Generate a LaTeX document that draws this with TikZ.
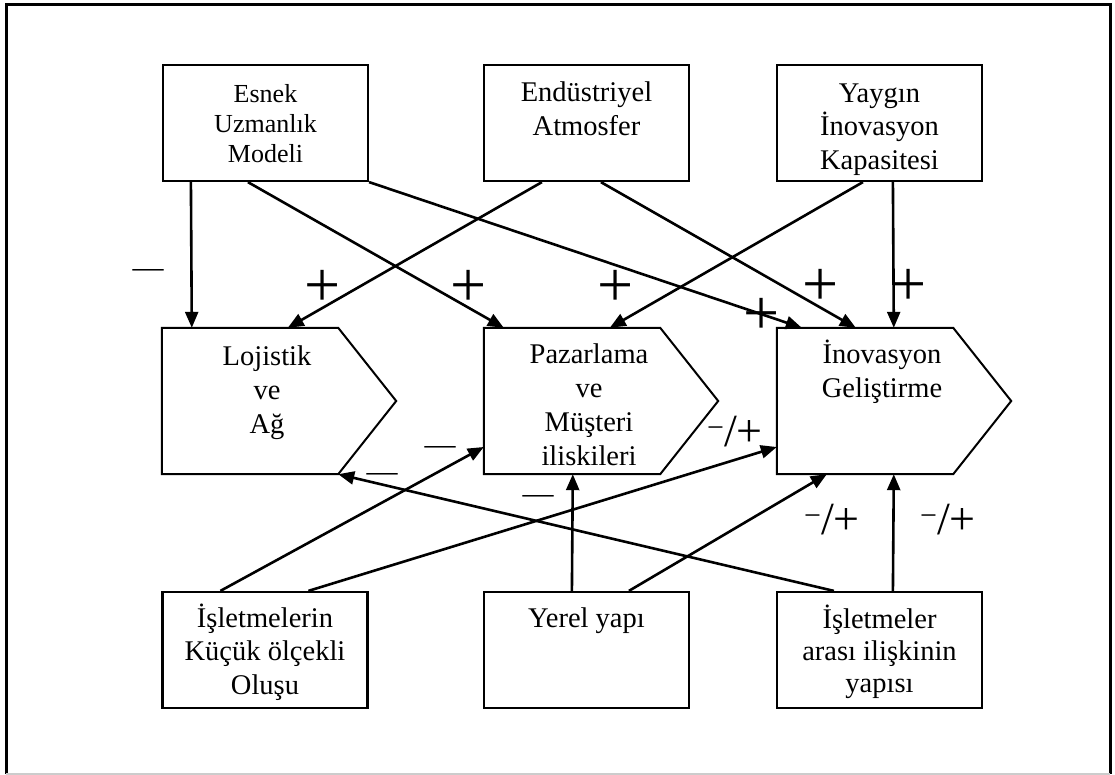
\documentclass[tikz,border=0pt]{standalone}
\usepackage{fontspec}
\setmainfont{Liberation Serif}
\usetikzlibrary{arrows.meta,calc}
\begin{document}
\begin{tikzpicture}[x=1pt,y=-1pt,
  box/.style={draw,line width=2.2pt,minimum width=205pt,minimum height=116pt,inner sep=0pt},
  blk/.style={draw=none,minimum width=176pt,minimum height=146pt,inner sep=0pt},
  txt/.style={anchor=north,inner sep=0pt,font=\fontsize{28.5}{34}\selectfont},
  link/.style={line width=2.6pt,-{Triangle[length=16pt,width=13pt]}},
  pent/.style={line width=2pt,line join=miter},
  sgn/.style={inner sep=0pt,font=\fontsize{64}{64}\selectfont},
  dsh/.style={inner sep=0pt,font=\fontsize{31}{31}\selectfont},
  mp/.style={inner sep=0pt,font=\fontsize{46}{46}\selectfont}]

% canvas and outer frame
\fill[white] (0,0) rectangle (1115,775);
\useasboundingbox (0,0) rectangle (1115,775);
\draw[line width=3pt] (6,774) -- (6,5) -- (1110,5) -- (1110,774);
\draw[black!20,line width=1.5pt] (6,774) -- (1110,774);

% top row
\node[box] (esnek)  at (265.5,123) {};
\node[box] (endus)  at (586.5,123) {};
\node[box] (yaygin) at (879.5,123) {};
\node[txt] (esnekt) at (esnek.north) {\parbox[t]{200pt}{\centering\fontsize{26}{30}\selectfont\rule{0pt}{38pt}Esnek\\Uzmanlık\\Modeli}};
\node[txt] (endust) at (endus.north) {\parbox[t]{200pt}{\centering\rule{0pt}{37pt}Endüstriyel\\Atmosfer}};
\node[txt] (yaygint) at (yaygin.north) {\parbox[t]{200pt}{\centering\fontsize{28.5}{33.5}\selectfont\rule{0pt}{38pt}Yaygın\\İnovasyon\\Kapasitesi}};

% middle row: arrow-shaped blocks
\node[blk] (loj)  at (250,401) {};
\node[blk] (paz)  at (572,401) {};
\node[blk] (inov) at (865,401) {};
\foreach \b in {loj,paz,inov}{
  \draw[pent] (\b.north west) -- (\b.north east) -- ($(\b.east)+(58,0)$)
    -- (\b.south east) -- (\b.south west) -- cycle;
}
\node[txt] (lojt)  at ($(loj.north)+(17,0)$)  {\parbox[t]{176pt}{\centering\rule{0pt}{37pt}Lojistik\\ve\\Ağ}};
\node[txt] (pazt)  at ($(paz.north)+(17,0)$)  {\parbox[t]{176pt}{\centering\rule{0pt}{35pt}Pazarlama\\ve\\Müşteri\\iliskileri}};
\node[txt] (inovt) at ($(inov.north)+(17,0)$) {\parbox[t]{176pt}{\centering\rule{0pt}{35pt}İnovasyon\\Geliştirme}};

% bottom row
\node[box] (isl)   at (265,650) {};
\node[box] (yerel) at (586.5,650) {};
\node[box] (isler) at (879.5,650) {};
\node[txt] (islt)   at (isl.north)   {\parbox[t]{200pt}{\centering\fontsize{28.5}{33.5}\selectfont\rule{0pt}{36pt}İşletmelerin\\Küçük ölçekli\\Oluşu}};
\node[txt] (yerelt) at (yerel.north) {\parbox[t]{200pt}{\centering\rule{0pt}{36pt}Yerel yapı}};
\node[txt] (islert) at (isler.north) {\parbox[t]{200pt}{\centering\fontsize{28.5}{32}\selectfont\rule{0pt}{37pt}İşletmeler\\arası ilişkinin\\yapısı}};

% influences from the top row
\draw[link] ($(esnek.south west)+(29,0)$)  -- ($(loj.north west)+(30,0)$);
\draw[link] ($(esnek.south west)+(86,0)$)  -- ($(paz.north west)+(20,0)$);
\draw[link] (esnek.south east)             -- ($(inov.north west)+(25,0)$);
\draw[link] ($(endus.south west)+(59,0)$)  -- ($(loj.north west)+(126,0)$);
\draw[link] ($(endus.south west)+(118,0)$) -- ($(inov.north west)+(79,0)$);
\draw[link] ($(yaygin.south west)+(87,0)$) -- ($(paz.north west)+(126,0)$);
\draw[link] ($(yaygin.south west)+(117,0)$) -- ($(inov.north west)+(117,0)$);

% influences from the bottom row
\draw[link] ($(isl.north west)+(59,0)$)    -- ($(paz.west)+(0,46)$);
\draw[link] ($(isl.north west)+(147,0)$)   -- ($(inov.west)+(0,46)$);
\draw[link] ($(yerel.north west)+(89,0)$)  -- ($(paz.south west)+(89,0)$);
\draw[link] ($(yerel.north west)+(146,0)$) -- ($(inov.south west)+(50,0)$);
\draw[link] ($(isler.north west)+(117,0)$) -- ($(inov.south west)+(117,0)$);
\draw[link] ($(isler.north west)+(58,0)$)  -- (loj.south east);

% signs
\node[dsh] (s1) at (148,274) {—};
\node[sgn] (s2) at (323,288) {+};
\node[sgn] (s3) at (469,288) {+};
\node[sgn] (s4) at (616,288) {+};
\node[sgn] (s5) at (762,316) {+};
\node[sgn] (s6) at (821,287) {+};
\node[sgn] (s7) at (909,287) {+};
\node[dsh] (s8) at (440,451) {—};
\node[dsh] (s9) at (538,500) {—};
\node[dsh] (s10) at (382,478) {—};
\node[mp] (s11) at (735,432) {\raisebox{9pt}{\fontsize{30}{30}\selectfont −}/+};
\node[mp] (s12) at (832,520) {\raisebox{9pt}{\fontsize{30}{30}\selectfont −}/+};
\node[mp] (s13) at (948,520) {\raisebox{9pt}{\fontsize{30}{30}\selectfont −}/+};
\end{tikzpicture}
\end{document}
